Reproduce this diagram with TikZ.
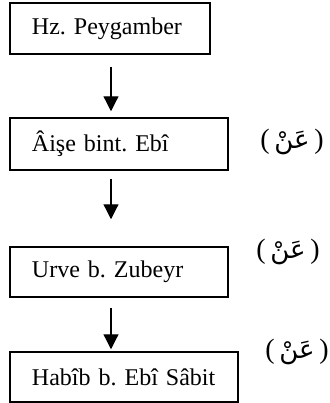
\documentclass[tikz,border=0pt]{standalone}
\usepackage{fontspec}
\setmainfont{Liberation Serif}
\newfontfamily\arabicfont[Script=Arabic]{DejaVu Sans}
\TeXXeTstate=1
\frenchspacing
\usetikzlibrary{arrows.meta,calc}

\begin{document}
\begin{tikzpicture}[x=.5pt,y=-.5pt,font=\fontsize{12}{14}\selectfont,
  >={Triangle[width=7.5pt,length=7.5pt]},
  chainbox/.style={draw,line width=.75pt,inner xsep=11pt,align=left},
  anlabel/.style={font=\fontsize{14}{16}\selectfont},
  link/.style={->,line width=.6pt}]
  \useasboundingbox (0,0) rectangle (329,403);
  \node[chainbox,text width=78pt,minimum height=25.5pt] (peygamber) at (110,28.5) {Hz. Peygamber};
  \node[chainbox,text width=87pt,minimum height=26pt] (aise) at (119,144) {Âişe bint. Ebî};
  \node[chainbox,text width=87pt,minimum height=25pt] (urve) at (119,272) {Urve b. Zubeyr};
  \node[chainbox,text width=92pt,minimum height=25pt] (habib) at (124,377) {\mbox{Habîb b. Ebî Sâbit}};
  \node[anlabel] (an1) at (292,142) {(\,{\arabicfont\fontsize{13}{15}\selectfont\beginR عَنْ\endR}\,)};
  \node[anlabel] (an2) at (288,252) {(\,{\arabicfont\fontsize{13}{15}\selectfont\beginR عَنْ\endR}\,)};
  \node[anlabel] (an3) at (297,352) {(\,{\arabicfont\fontsize{13}{15}\selectfont\beginR عَنْ\endR}\,)};
  \coordinate (spine) at (111,0);
  \draw[link,shorten <=6pt,shorten >=3pt] (peygamber.south -| spine) -- (aise.north -| spine);
  \draw[link,shorten <=4pt,shorten >=13.5pt] (aise.south -| spine) -- (urve.north -| spine);
  \draw[link,shorten <=5pt,shorten >=1pt] (urve.south -| spine) -- (habib.north -| spine);
\end{tikzpicture}
\end{document}
